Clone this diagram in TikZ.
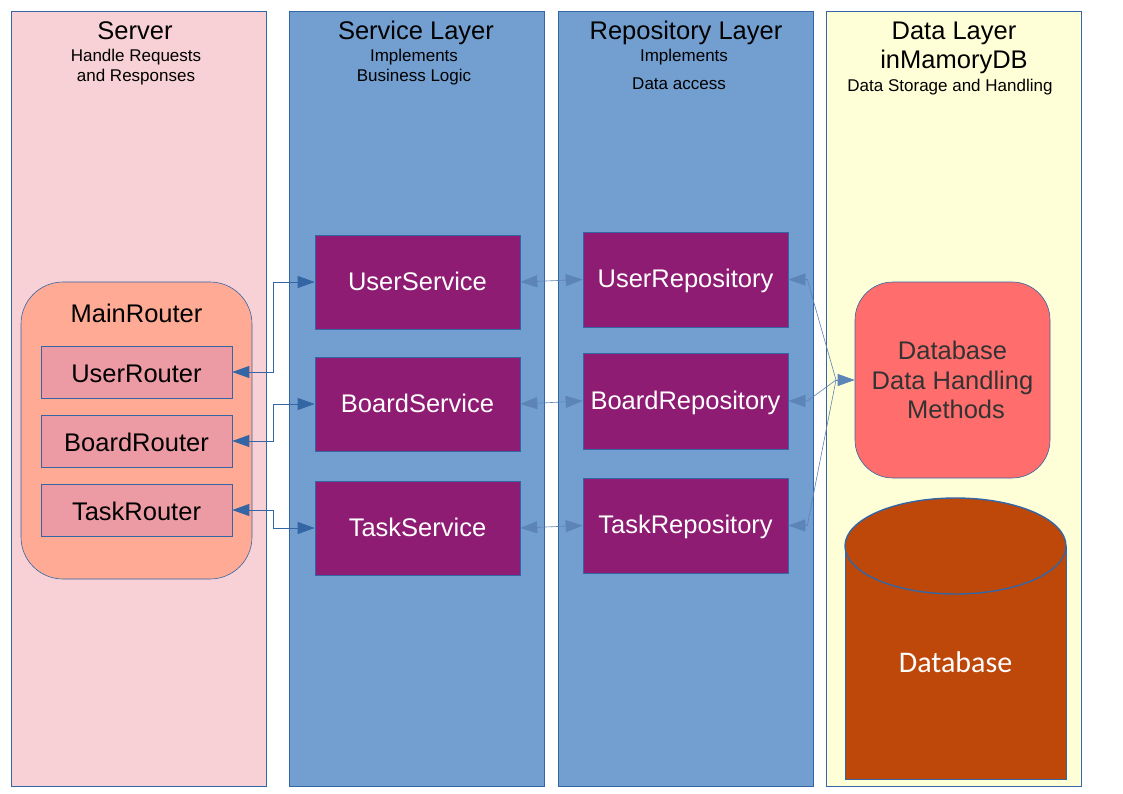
\documentclass[tikz,border=0pt]{standalone}
\usepackage{fontspec}
\setmainfont{Liberation Sans}
\newfontfamily\carlito{Carlito}
\usetikzlibrary{arrows.meta}
\definecolor{bordc}{HTML}{3465A4}
\definecolor{pinkbg}{HTML}{F7D1D5}
\definecolor{bluebg}{HTML}{729FCF}
\definecolor{yelbg}{HTML}{FFFFD7}
\definecolor{salmon}{HTML}{FFAA95}
\definecolor{routerc}{HTML}{EC9BA4}
\definecolor{purp}{HTML}{8E1C72}
\definecolor{dbred}{HTML}{FF6D6D}
\definecolor{cylc}{HTML}{BE480A}
\definecolor{darkt}{HTML}{333333}
\tikzset{
  layer/.style={draw=bordc, line width=0.8pt, minimum width=255pt, minimum height=775pt, inner sep=0pt},
  ttl/.style={font=\fontsize{25.5}{29}\selectfont, align=center, inner sep=0pt, anchor=base},
  subt/.style={font=\fontsize{17}{20}\selectfont, align=center, inner sep=0pt, anchor=base},
  routerbox/.style={draw=bordc, line width=0.6pt, fill=routerc, minimum width=191pt, minimum height=52pt, inner sep=0pt, text height=26pt, text depth=6pt, font=\fontsize{25.5}{29}\selectfont},
  purpbox/.style={draw=bordc, line width=0.6pt, fill=purp, text=white, minimum width=205pt, minimum height=95pt, inner sep=0pt, text height=22pt, text depth=6pt, font=\fontsize{25.5}{29}\selectfont},
  conn/.style={draw=bordc, line width=0.8pt, >={Triangle[length=17pt,width=12pt]}},
  thinconn/.style={draw=bordc!80, line width=0.6pt, >={Triangle[length=17pt,width=12pt]}},
}
\begin{document}
\begin{tikzpicture}[x=1pt,y=-1pt]
\useasboundingbox[fill=white] (0,0) rectangle (1123,794);
% layers
\node[layer, fill=pinkbg] (server) at (138.5,398.5) {};
\node[layer, fill=bluebg] (service) at (416.5,398.5) {};
\node[layer, fill=bluebg] (repo) at (685.5,398.5) {};
\node[layer, fill=yelbg] (data) at (953.5,398.5) {};
% titles
\node[ttl] (t1) at (135,40) {Server};
\node[subt] (s1) at (136,82) {Handle Requests\\and Responses};
\node[ttl] (t2) at (416,40) {Service Layer};
\node[subt] (s2) at (414,82) {Implements\\Business Logic};
\node[ttl] (t3) at (686,40) {Repository Layer};
\node[subt] (s3a) at (684,62) {Implements};
\node[subt] (s3b) at (679,90) {Data access};
\node[ttl] (t4) at (954,69) {Data Layer\\inMamoryDB};
\node[subt] (s4) at (950,92) {Data Storage and Handling};
% main router
\node[draw=bordc, line width=0.6pt, fill=salmon, rounded corners=42pt, minimum width=231pt, minimum height=297pt] (main) at (136.5,430.5) {};
\node[font=\fontsize{25.5}{29}\selectfont, inner sep=0pt, anchor=base] (mainlbl) at (136.5,322) {MainRouter};
\node[routerbox] (urouter) at (136.5,372) {UserRouter};
\node[routerbox] (brouter) at (136.5,441) {BoardRouter};
\node[routerbox] (trouter) at (136.5,510) {TaskRouter};
% services
\node[purpbox, minimum height=94pt] (uservice) at (417.5,282) {UserService};
\node[purpbox, minimum height=94pt] (bservice) at (417.5,404) {BoardService};
\node[purpbox, minimum height=94pt] (tservice) at (417.5,528) {TaskService};
% repositories
\node[purpbox] (urepo) at (685.5,279.5) {UserRepository};
\node[purpbox, minimum height=96pt] (brepo) at (685.5,401) {BoardRepository};
\node[purpbox] (trepo) at (685.5,525.5) {TaskRepository};
% database handling
\node[draw=bordc, line width=0.6pt, fill=dbred, rounded corners=38pt, minimum width=195pt, minimum height=196pt, align=center, text=darkt, font=\fontsize{25.5}{29.5}\selectfont] (dbh) at (952.5,380) {Database\hspace{7pt}\\Data Handling\\\hspace{7pt}Methods};
% cylinder
\fill[cylc] (845,546) -- (845,779) -- (1066,779) -- (1066,546) -- cycle;
\draw[bordc, line width=0.6pt] (845,546) -- (845,779) -- (1066,779) -- (1066,546);
\draw[bordc, line width=1.4pt, fill=cylc] (955.5,546) ellipse [x radius=110.5, y radius=48];
\node[font=\carlito\fontsize{30}{34}\selectfont, text=white, inner sep=0pt] (cyl) at (955.5,662) {Database};
% connectors router <-> service
\draw[conn,<->] (urouter.east) -- ++(41,0) |- (uservice.west);
\draw[conn,<->] (brouter.east) -- ++(41,0) |- (bservice.west);
\draw[conn,<->] (trouter.east) -- ++(41,0) |- (tservice.west);
% service <-> repo
\draw[thinconn,<->] (uservice.east) -- (urepo.west);
\draw[thinconn,<->] (bservice.east) -- (brepo.west);
\draw[thinconn,<->] (tservice.east) -- (trepo.west);
% repo <-> db
\coordinate (hub) at (836,380);
\draw[thinconn,<-] (urepo.east) -- ++(19,0) -- (hub);
\draw[thinconn,<-] (brepo.east) -- ++(19,0) -- (hub);
\draw[thinconn,<-] (trepo.east) -- ++(19,0) -- (hub);
\draw[thinconn,->] (hub) -- (dbh.west);
\end{tikzpicture}
\end{document}
